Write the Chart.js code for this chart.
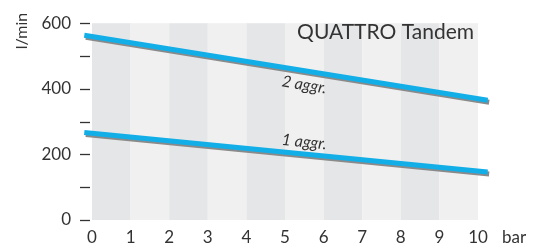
<!DOCTYPE html>
<html>
<head>
<meta charset="utf-8">
<script src="https://cdn.jsdelivr.net/npm/chart.js@4"></script>
<style>
  body { margin: 0; background: #fff; }
  #wrap { width: 542px; height: 248px; position: relative; }
</style>
</head>
<body>
<div id="wrap"><canvas id="flow-chart"></canvas></div>
<script>
// pressure in bar (lines run a little past both ends of the axis)
var pressure = [-0.2, 10.25];
var flowTwo = [563, 365];   // 2 aggr.
var flowOne = [267, 146];   // 1 aggr.
var xTicks = [0, 1, 2, 3, 4, 5, 6, 7, 8, 9, 10];
var yLabels = [0, 200, 400, 600];
var yMinor = [100, 300, 500];
var lineLabels = [
  { text: "2 aggr.", x: 5.5, y: 412 },
  { text: "1 aggr.", x: 5.5, y: 238 }
];

var font = "Lato, 'Open Sans', sans-serif";
var ink = "#333";

function pts(xs, ys) {
  return xs.map(function (x, i) { return { x: x, y: ys[i] }; });
}

var decor = {
  id: 'decor',
  beforeDatasetsDraw: function (chart) {
    var ctx = chart.ctx, xs = chart.scales.x, ys = chart.scales.y, a = chart.chartArea;
    ctx.save();
    for (var i = 0; i < 10; i++) {
      var l = xs.getPixelForValue(i), r = xs.getPixelForValue(i + 1);
      ctx.fillStyle = i % 2 == 0 ? '#e5e6e8' : '#f0f0f0';
      ctx.fillRect(l, a.top, r - l, a.bottom - a.top);
    }
    // y tick marks
    ctx.strokeStyle = ink;
    ctx.lineWidth = 1.3;
    yLabels.concat(yMinor).forEach(function (v) {
      var y = Math.round(ys.getPixelForValue(v)) + 0.5;
      ctx.beginPath();
      ctx.moveTo(a.left - 12, y);
      ctx.lineTo(a.left - 2, y);
      ctx.stroke();
    });
    // title
    ctx.fillStyle = ink;
    ctx.font = "21px " + font;
    ctx.textAlign = 'right';
    ctx.textBaseline = 'alphabetic';
    ctx.fillText("QUATTRO Tandem", a.right - 4, 39);
    // unit labels
    ctx.font = "17px " + font;
    ctx.textAlign = 'left';
    ctx.textBaseline = 'middle';
    ctx.fillText("bar", a.right + 24, 238);
    ctx.save();
    ctx.translate(22, 31);
    ctx.rotate(-Math.PI / 2);
    ctx.textAlign = 'center';
    ctx.font = "16px " + font;
    ctx.fillText("l/min", 0, 0);
    ctx.restore();
    ctx.restore();
  },
  beforeDatasetDraw: function (chart) {
    var ctx = chart.ctx;
    ctx.save();
    ctx.shadowColor = '#8a8a8a';
    ctx.shadowOffsetX = 1.5;
    ctx.shadowOffsetY = 2;
    ctx.shadowBlur = 0;
  },
  afterDatasetDraw: function (chart) {
    chart.ctx.restore();
  },
  afterDatasetsDraw: function (chart) {
    var ctx = chart.ctx, xs = chart.scales.x, ys = chart.scales.y;
    ctx.save();
    ctx.fillStyle = ink;
    ctx.font = "italic 16px " + font;
    ctx.textAlign = 'center';
    ctx.textBaseline = 'middle';
    [flowTwo, flowOne].forEach(function (d, k) {
      var lb = lineLabels[k];
      var x0 = xs.getPixelForValue(pressure[0]), x1 = xs.getPixelForValue(pressure[1]);
      var y0 = ys.getPixelForValue(d[0]), y1 = ys.getPixelForValue(d[1]);
      var ang = Math.atan2(y1 - y0, x1 - x0);
      ctx.save();
      ctx.translate(xs.getPixelForValue(lb.x), ys.getPixelForValue(lb.y));
      ctx.rotate(ang);
      ctx.fillText(lb.text, 0, 0);
      ctx.restore();
    });
    ctx.restore();
  }
};

new Chart(document.getElementById("flow-chart"), {
  type: 'line',
  data: {
    datasets: [
      {
        label: "2 aggr.",
        data: pts(pressure, flowTwo),
        borderColor: "#12aee8",
        borderWidth: 5,
        pointRadius: 0,
        clip: false
      },
      {
        label: "1 aggr.",
        data: pts(pressure, flowOne),
        borderColor: "#12aee8",
        borderWidth: 5,
        pointRadius: 0,
        clip: false
      }
    ]
  },
  options: {
    responsive: true,
    maintainAspectRatio: false,
    animation: false,
    layout: {
      padding: { top: 16, right: 64, left: 0, bottom: 0 }
    },
    plugins: {
      legend: { display: false },
      tooltip: { enabled: false }
    },
    scales: {
      x: {
        type: 'linear',
        min: 0,
        max: 10,
        afterFit: function (s) { s.height = 28; },
        afterBuildTicks: function (s) { s.ticks = xTicks.map(function (v) { return { value: v }; }); },
        grid: { display: false },
        border: { display: false },
        ticks: {
          color: ink,
          font: { family: font, size: 17 },
          padding: -1,
          maxRotation: 0
        }
      },
      y: {
        min: 0,
        max: 600,
        afterFit: function (s) { s.width = 92; },
        afterBuildTicks: function (s) { s.ticks = yLabels.map(function (v) { return { value: v }; }); },
        grid: { display: false },
        border: { display: false },
        ticks: {
          color: ink,
          font: { family: font, size: 17 },
          padding: 13
        }
      }
    }
  },
  plugins: [decor]
});
</script>
</body>
</html>
